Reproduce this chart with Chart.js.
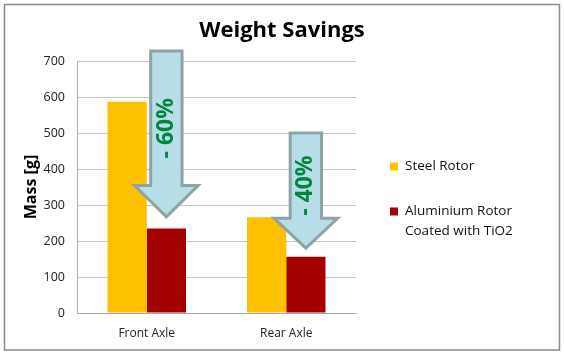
<!DOCTYPE html>
<html><head><meta charset="utf-8">
<script src="https://cdn.jsdelivr.net/npm/chart.js@4.4.1/dist/chart.umd.min.js"></script>
<style>html,body{margin:0;padding:0;background:#fff}#wrap{width:564px;height:357px;position:relative}</style>
</head><body><div id="wrap"><canvas id="c" width="564" height="357"></canvas></div>
<script>
const categories = ['Front Axle', 'Rear Axle'];
const steelRotor = [587, 266];
const aluminiumRotor = [235, 156];
const seriesNames = ['Steel Rotor', 'Aluminium Rotor Coated with TiO2'];
const legendLines = [['Steel Rotor'], ['Aluminium Rotor', 'Coated with TiO2']];
const yTicks = [0, 100, 200, 300, 400, 500, 600, 700];
const chartTitle = 'Weight Savings';
const yTitle = 'Mass [g]';
const arrowLabels = ['- 60%', '- 40%'];
const arrowStart = [728, 500];
const arrowHeadBase = [354, 263];
const arrowTip = [267, 180];

const FONT = "'Open Sans', 'Liberation Sans', sans-serif";
const colors = ['#FFC000', '#A50000'];

const deco = {
  id: 'deco',
  afterDatasetsDraw(chart) {
    const ctx = chart.ctx, y = chart.scales.y;
    const meta = chart.getDatasetMeta(1);
    meta.data.forEach((bar, i) => {
      const cx = bar.x, bw = bar.width;
      const sw = bw * 0.8 / 2, hw = bw * 1.62 / 2;
      const yTop = y.getPixelForValue(arrowStart[i]);
      const yBase = y.getPixelForValue(arrowHeadBase[i]);
      const yTip = y.getPixelForValue(arrowTip[i]);
      ctx.save();
      ctx.beginPath();
      ctx.moveTo(cx - sw, yTop); ctx.lineTo(cx + sw, yTop); ctx.lineTo(cx + sw, yBase);
      ctx.lineTo(cx + hw, yBase); ctx.lineTo(cx, yTip); ctx.lineTo(cx - hw, yBase);
      ctx.lineTo(cx - sw, yBase); ctx.closePath();
      ctx.fillStyle = '#B7DEE8'; ctx.fill();
      ctx.lineWidth = 3; ctx.strokeStyle = '#8EA3A5'; ctx.lineJoin = 'miter'; ctx.stroke();
      ctx.translate(cx, (yTop + yBase) / 2 + 10);
      ctx.rotate(-Math.PI / 2);
      ctx.fillStyle = '#00863D';
      ctx.font = "bold 23px " + FONT;
      ctx.textAlign = 'center'; ctx.textBaseline = 'middle';
      ctx.fillText(arrowLabels[i], 0, 0);
      ctx.restore();
    });
  },
  afterDraw(chart) {
    const ctx = chart.ctx;
    ctx.save();
    ctx.fillStyle = '#000';
    ctx.font = "bold 22px " + FONT;
    ctx.textAlign = 'center'; ctx.textBaseline = 'middle';
    ctx.fillText(chartTitle, 282, 31);
    ctx.font = "13.5px " + FONT;
    ctx.textAlign = 'left';
    const starts = [166.5, 211.5];
    legendLines.forEach((lines, i) => {
      ctx.fillStyle = colors[i];
      ctx.fillRect(390, starts[i] - 4, 8, 8);
      ctx.fillStyle = '#111';
      lines.forEach((t, j) => ctx.fillText(t, 405, starts[i] + j * 19.5));
    });
    ctx.strokeStyle = '#8A8A8A'; ctx.lineWidth = 1.5;
    ctx.strokeRect(4.5, 4.5, 555, 345.5);
    ctx.restore();
  }
};

new Chart(document.getElementById('c'), {
  type: 'bar',
  data: {
    labels: categories,
    datasets: [
      { label: seriesNames[0], data: steelRotor, backgroundColor: colors[0], barPercentage: 1, categoryPercentage: 0.5625 },
      { label: seriesNames[1], data: aluminiumRotor, backgroundColor: colors[1], barPercentage: 1, categoryPercentage: 0.5625 }
    ]
  },
  options: {
    responsive: false, animation: false, devicePixelRatio: 1,
    layout: { padding: { left: 0, right: 208, top: 61, bottom: 14 } },
    plugins: { legend: { display: false }, title: { display: false }, tooltip: { enabled: false } },
    scales: {
      x: {
        grid: { display: false, drawTicks: false },
        border: { color: '#A6A6A6', width: 1 },
        ticks: { color: '#222', font: { family: FONT, size: 12 }, padding: 13 },
        afterFit: s => { s.height = 30; }
      },
      y: {
        min: 0, max: 700,
        afterBuildTicks: s => { s.ticks = yTicks.map(v => ({ value: v })); },
        grid: { color: '#C4C4C4', drawTicks: false },
        border: { color: '#B0B0B0' },
        ticks: { color: '#222', font: { family: FONT, size: 12.5 }, padding: 12 },
        title: { display: true, text: yTitle, color: '#000', font: { family: FONT, size: 16, weight: 'bold' }, padding: { top: 22, bottom: 0 } },
        afterFit: s => { s.width = 77; }
      }
    }
  },
  plugins: [deco]
});
</script>
</body></html>
